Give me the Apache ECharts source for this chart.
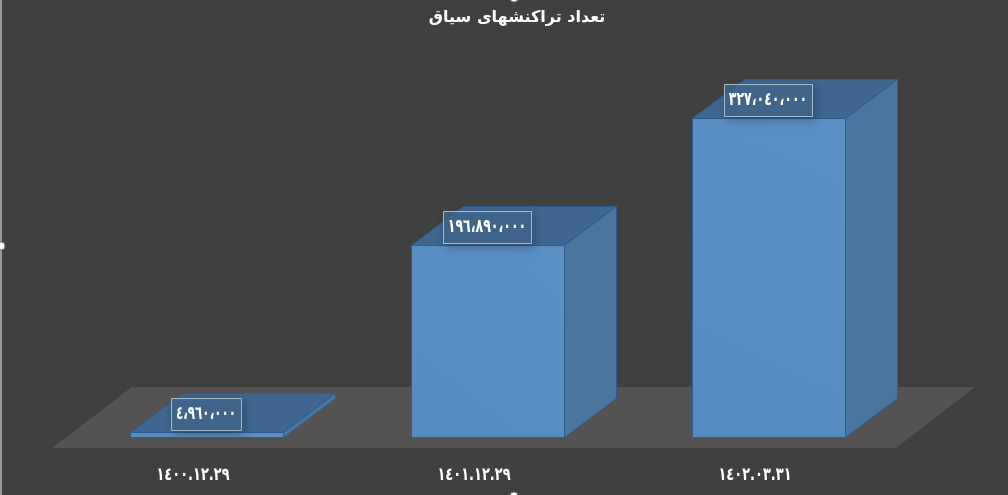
<!DOCTYPE html>
<html><head><meta charset="utf-8">
<style>html,body{margin:0;padding:0;background:#404040}#c{width:1008px;height:495px}</style>
<script src="https://cdn.jsdelivr.net/npm/echarts@6/dist/echarts.min.js"></script>
</head><body><div id="c"></div>
<script>
const categories = ['١٤٠٠.١٢.٢٩', '١٤٠١.١٢.٢٩', '١٤٠٢.٠٣.٣١'];
const values = [4960000, 196890000, 327040000];
const valueLabels = ['٤،٩٦٠،٠٠٠', '١٩٦،٨٩٠،٠٠٠', '٣٢٧،٠٤٠،٠٠٠'];
const titleText = 'تعداد تراکنشهای سیاق';
const FONT = '"DejaVu Sans", sans-serif';
const DX = 52, DY = -39;

function poly(points, fill, stroke) {
  return { type: 'polygon', shape: { points }, style: { fill, stroke: stroke || 'none', lineWidth: 1 } };
}
function renderFloor(params, api) {
  const c = params.coordSys, b = c.y + c.height, l = c.x, r = c.x + c.width;
  return poly([[l - 14, b + 11], [r - 13, b + 11], [r + 66, b - 50], [l + 66, b - 50]], '#545252');
}
function renderBar(params, api) {
  const i = api.value(0), v = api.value(1);
  const top = api.coord([i, v]), base = api.coord([i, 0]);
  const w = api.size([1, 0])[0] * 0.5445;
  const l = Math.round(top[0] - w / 2) + 0.5, r = Math.round(top[0] + w / 2) + 0.5;
  const t = Math.round(top[1]) + 0.5, b = Math.round(base[1]) + 0.5;
  const edge = '#2f5e8e';
  const long = valueLabels[i].length > 9;
  const cx = Math.round(top[0]) - 1;
  return {
    type: 'group',
    children: [
      poly([[l, t], [l + DX, t + DY], [r + DX, t + DY], [r, t]], '#3e668f', edge),
      poly([[r, t], [r + DX, t + DY], [r + DX, b + DY], [r, b]], '#4a769f', edge),
      {
        type: 'rect', shape: { x: l, y: t, width: r - l, height: b - t },
        style: {
          fill: { type: 'linear', x: 0, y: 1, x2: 1, y2: 0, colorStops: [{ offset: 0, color: '#568cc0' }, { offset: 1, color: '#5b90c4' }] },
          stroke: edge, lineWidth: 1
        }
      },
      {
        type: 'rect', z2: 9,
        shape: { x: cx - (long ? 44 : 35) + 0.5, y: t - 34, width: long ? 88 : 70, height: 32 },
        style: {
          fill: 'rgba(70,110,150,0.72)', stroke: '#a9b8c6', lineWidth: 1,
          shadowColor: 'rgba(0,0,0,0.3)', shadowBlur: 8, shadowOffsetX: 2, shadowOffsetY: 3
        }
      },
      {
        type: 'text', z2: 10,
        x: cx, y: t - 18,
        scaleX: long ? 0.66 : 0.63,
        style: {
          text: valueLabels[i], fill: '#ffffff', align: 'center', verticalAlign: 'middle',
          font: 'bold 19px ' + FONT
        }
      },
      {
        type: 'text', z2: 10,
        x: Math.round(top[0]) - 14, y: b + 38,
        scaleX: 0.72,
        style: {
          text: categories[i], fill: '#ffffff', align: 'center', verticalAlign: 'middle',
          font: 'bold 18px ' + FONT
        }
      }
    ]
  };
}
const chart = echarts.init(document.getElementById('c'), null, { renderer: 'canvas' });
chart.setOption({
  animation: false,
  backgroundColor: '#404040',
  title: {
    text: titleText, left: 512, top: 5, textAlign: 'center',
    textStyle: { color: '#ffffff', fontFamily: FONT, fontWeight: 'bold', fontSize: 16 }
  },
  grid: { left: 66, right: 99, top: 95.6, bottom: 58 },
  xAxis: {
    type: 'category', data: categories,
    axisLine: { show: false }, axisTick: { show: false }, splitLine: { show: false },
    axisLabel: { show: false }
  },
  yAxis: { type: 'value', min: 0, max: 350000000, show: false, splitLine: { show: false } },
  series: [
    { type: 'custom', name: 'floor', coordinateSystem: 'cartesian2d', renderItem: renderFloor, data: [[0, 0]], silent: true, z: 1, encode: { x: 0, y: 1 } },
    { type: 'custom', name: 'bars', coordinateSystem: 'cartesian2d', renderItem: renderBar,
      data: values.map((v, i) => [i, v]), z: 2, encode: { x: 0, y: 1 } }
  ],
  graphic: [
    { type: 'rect', shape: { x: 0, y: 0, width: 2, height: 495 }, style: { fill: '#9a9a9a' }, silent: true },
    { type: 'circle', shape: { cx: 1, cy: 246, r: 4 }, style: { fill: '#ffffff', stroke: '#777777' }, silent: true },
    { type: 'circle', shape: { cx: 514, cy: 496, r: 4 }, style: { fill: '#ffffff', stroke: '#777777' }, silent: true },
    { type: 'circle', shape: { cx: 514, cy: -2, r: 4 }, style: { fill: '#ffffff', stroke: '#777777' }, silent: true }
  ]
});
</script></body></html>
